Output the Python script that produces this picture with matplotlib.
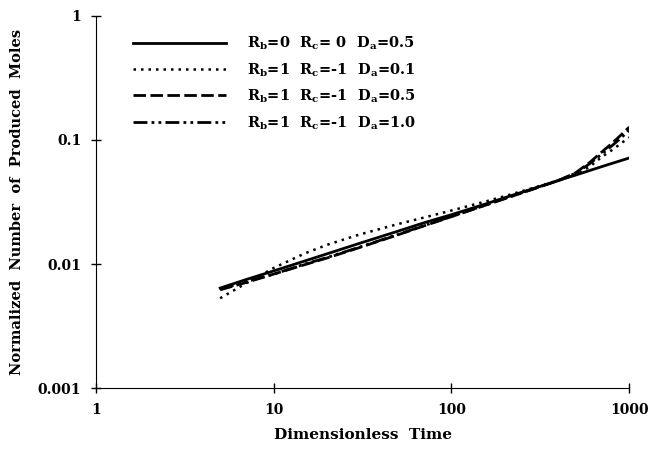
import matplotlib
matplotlib.use('Agg')
import matplotlib.pyplot as plt

# dimensionless time
t = [5, 7, 10, 15, 20, 30, 50, 70, 100, 150, 200, 300, 400, 500, 600, 700, 800, 900, 1000]

# normalized number of produced moles
n_rb0_da05 = [0.0064, 0.0075, 0.0088, 0.0106, 0.0121, 0.0146, 0.0184, 0.0215, 0.0250,
              0.0300, 0.0343, 0.0413, 0.0472, 0.0522, 0.0568, 0.0610, 0.0648, 0.0683, 0.0716]
n_rb1_da01 = [0.0053, 0.0070, 0.0093, 0.0122, 0.0143, 0.0172, 0.0210, 0.0237, 0.0270,
              0.0315, 0.0353, 0.0418, 0.0473, 0.0525, 0.0610, 0.0730, 0.0830, 0.0940, 0.1050]
n_rb1_da05 = [0.0062, 0.0071, 0.0083, 0.0099, 0.0112, 0.0135, 0.0172, 0.0203, 0.0241,
              0.0293, 0.0337, 0.0410, 0.0471, 0.0545, 0.0660, 0.0800, 0.0940, 0.1100, 0.1270]
n_rb1_da10 = [0.0063, 0.0072, 0.0083, 0.0100, 0.0113, 0.0136, 0.0173, 0.0204, 0.0242,
              0.0294, 0.0338, 0.0411, 0.0472, 0.0540, 0.0645, 0.0770, 0.0900, 0.1040, 0.1200]

labels = [r'R$_\mathbf{b}$=0  R$_\mathbf{c}$= 0  D$_\mathbf{a}$=0.5',
          r'R$_\mathbf{b}$=1  R$_\mathbf{c}$=-1  D$_\mathbf{a}$=0.1',
          r'R$_\mathbf{b}$=1  R$_\mathbf{c}$=-1  D$_\mathbf{a}$=0.5',
          r'R$_\mathbf{b}$=1  R$_\mathbf{c}$=-1  D$_\mathbf{a}$=1.0']

plt.rcParams['font.family'] = 'DejaVu Serif'
plt.rcParams['font.weight'] = 'bold'
plt.rcParams['mathtext.fontset'] = 'custom'
plt.rcParams['mathtext.rm'] = 'DejaVu Serif:bold'
plt.rcParams['mathtext.bf'] = 'DejaVu Serif:bold'

fig = plt.figure(figsize=(6.61, 4.55), dpi=100)
ax = fig.add_axes([0.145, 0.147, 0.807, 0.818])

ax.plot(t, n_rb0_da05, color='black', lw=2.0, ls='-', label=labels[0])
ax.plot(t, n_rb1_da01, color='black', lw=1.8, ls=(0, (1, 2)), label=labels[1])
ax.plot(t, n_rb1_da05, color='black', lw=2.0, ls=(0, (4.5, 1.6)), label=labels[2])
ax.plot(t, n_rb1_da10, color='black', lw=2.0, ls=(0, (5, 1.5, 1, 1.5, 1, 1.5)), label=labels[3])

ax.set_xscale('log')
ax.set_yscale('log')
ax.set_xlim(1, 1000)
ax.set_ylim(0.001, 1)
ax.set_xticks([1, 10, 100, 1000])
ax.set_xticklabels(['1', '10', '100', '1000'])
ax.set_yticks([0.001, 0.01, 0.1, 1])
ax.set_yticklabels(['0.001', '0.01', '0.1', '1'])
ax.minorticks_off()
ax.tick_params(direction='inout', length=7, width=1, labelsize=10)
ax.tick_params(axis='x', pad=7)
ax.tick_params(axis='y', pad=7)
ax.spines['top'].set_visible(False)
ax.spines['right'].set_visible(False)

ax.set_xlabel('Dimensionless  Time', fontsize=11, fontweight='bold', labelpad=8)
ax.set_ylabel('Normalized  Number  of  Produced  Moles', fontsize=10.5, fontweight='bold', labelpad=10)

ax.legend(loc='upper left', bbox_to_anchor=(0.045, 0.985), frameon=False, fontsize=10.5,
          handlelength=6.4, handletextpad=1.4, labelspacing=0.6)

fig.savefig('out.png', dpi=100)
